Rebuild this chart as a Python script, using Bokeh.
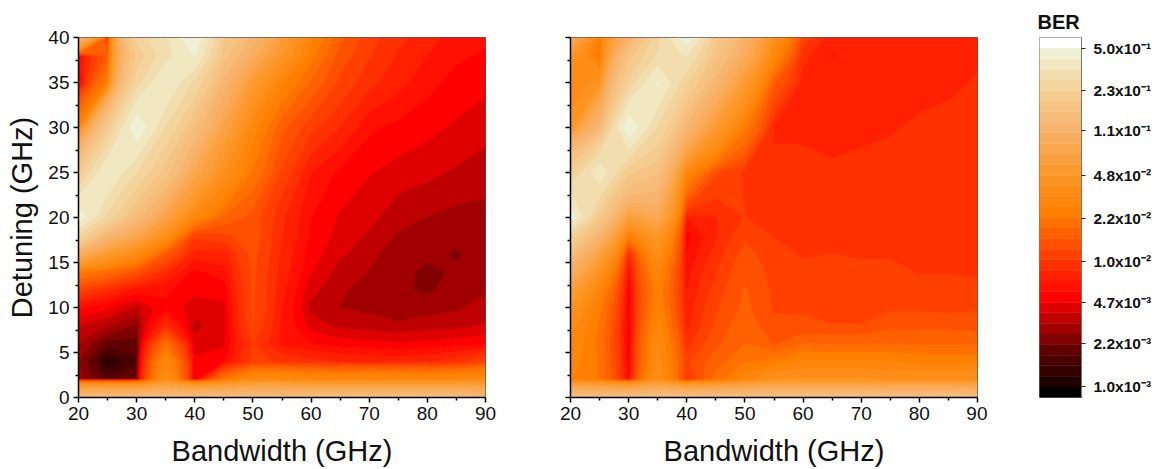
import numpy as np
from bokeh.embed import file_html
from bokeh.layouts import row
from bokeh.models import FixedTicker, Range1d, Title
from bokeh.plotting import figure
from bokeh.resources import INLINE

# Bandwidth (GHz) and detuning (GHz) grid
bandwidth = [20, 25, 30, 35, 40, 45, 50, 55, 60, 65, 70, 75, 80, 85, 90]
detuning = [0, 2, 4, 6, 8, 10, 12, 14, 16, 18, 20, 25, 30, 35, 38, 40]

# BER x 1000, one list per bandwidth, ascending detuning
left_ber = [
    [150, 2.8, 2.7, 3.2, 4, 6, 12, 24, 100, 270, 480, 200, 28, 5, 5.5, 130],
    [150, 1.8, 1.15, 2.0, 3.3, 5, 9, 20, 55, 130, 260, 420, 200, 25, 16, 7],
    [150, 2.2, 1.7, 2.0, 2.6, 3.7, 6.5, 14, 35, 80, 140, 280, 490, 260, 200, 250],
    [150, 38, 32, 20, 9, 5.5, 6, 9, 16, 38, 70, 170, 280, 420, 320, 330],
    [150, 4.5, 5, 4.2, 3.7, 4.3, 5, 5.5, 8, 11, 30, 80, 150, 270, 420, 490],
    [150, 22, 5.5, 4.6, 4.4, 4.5, 5.2, 6.5, 8, 12, 18, 40, 70, 120, 170, 200],
    [150, 35, 11, 10.5, 12.5, 13, 13, 13, 13.5, 14, 14, 22, 30, 55, 95, 120],
    [150, 35, 10, 6.7, 6.8, 7, 7.4, 7.8, 8.2, 8.6, 8.8, 12, 16, 28, 48, 60],
    [150, 32, 9, 5.8, 4.4, 3.7, 4.2, 4.8, 5.2, 5.6, 5.8, 7, 11, 18, 24, 28],
    [150, 32, 8.5, 5.2, 3.7, 3.2, 3.3, 3.6, 4.1, 4.4, 4.6, 5.5, 8.5, 12, 14, 16],
    [150, 32, 8.2, 5, 3.5, 3.1, 3.0, 3.2, 3.4, 3.8, 4.2, 4.8, 6, 9, 10.5, 11],
    [150, 32, 8, 4.9, 3.3, 2.95, 2.75, 2.8, 2.9, 3.15, 3.4, 4.4, 5.4, 7.5, 8.3, 9],
    [150, 32, 8.5, 5, 3.5, 3.0, 2.55, 2.55, 2.75, 2.95, 3.2, 4.1, 5, 6.2, 7, 7.5],
    [150, 32, 9.5, 5.2, 3.7, 3.1, 2.9, 2.7, 2.6, 2.8, 3.0, 3.8, 4.6, 5.3, 6, 6.5],
    [130, 35, 12, 5.5, 4.0, 3.6, 3.1, 2.85, 2.85, 2.9, 3.0, 3.5, 4.2, 5, 5.6, 6],
]
right_ber = [
    [160, 28, 30, 32, 36, 45, 65, 100, 150, 250, 480, 220, 45, 32, 50, 90],
    [160, 22, 22, 21, 22, 24, 30, 42, 70, 120, 190, 400, 130, 45, 21, 25],
    [160, 6, 5.2, 4.9, 4.9, 5, 5.3, 6, 9, 25, 60, 200, 490, 240, 170, 110],
    [160, 40, 35, 34, 30, 27, 26, 30, 38, 50, 85, 160, 280, 430, 290, 260],
    [160, 10, 12, 9.5, 8, 7.5, 7, 6.5, 5.8, 5.4, 7.2, 30, 120, 240, 350, 480],
    [160, 20, 17, 14.5, 13, 12.2, 11.2, 10.2, 9.2, 8.2, 8.4, 13, 55, 120, 170, 200],
    [160, 30, 22, 18.5, 17.5, 16, 15.5, 14.8, 13.5, 12, 10.4, 10, 24, 55, 90, 110],
    [160, 42, 24, 15, 12.9, 12.3, 12, 11.6, 11, 10.2, 9.2, 8.6, 8.4, 16, 30, 40],
    [160, 42, 28, 18.5, 13, 12.2, 11.6, 10.9, 10.1, 9.7, 9.3, 8.9, 8.2, 8.0, 9, 12],
    [160, 42, 28, 18, 12.6, 11.8, 11.3, 10.8, 10.3, 9.8, 9.3, 8.7, 8, 7.5, 6.9, 7.5],
    [160, 42, 28, 18, 12.6, 11.6, 11.3, 10.7, 10.1, 9.7, 9.4, 8.8, 8.2, 7.8, 7.6, 7.5],
    [160, 40, 27, 18.5, 14.5, 12, 11.2, 10.7, 10.1, 9.8, 9.6, 9, 8.35, 8.1, 7.7, 7.6],
    [160, 40, 26, 18, 14.6, 12, 11, 10.2, 9.9, 9.7, 9.5, 9.2, 8.7, 8, 7.8, 7.7],
    [160, 40, 26, 18, 14.5, 11.8, 10.9, 10.2, 9.7, 9.5, 9.4, 9.2, 8.9, 8.2, 8, 7.8],
    [150, 40, 26, 18, 14, 12.2, 10.7, 10.1, 9.8, 9.6, 9.5, 9.2, 9, 8.6, 8.3, 8],
]

x_ticks = [20, 30, 40, 50, 60, 70, 80, 90]
x_minor = [25, 35, 45, 55, 65, 75, 85]
y_ticks = [0, 5, 10, 15, 20, 25, 30, 35, 40]
y_minor = [2.5, 7.5, 12.5, 17.5, 22.5, 27.5, 32.5, 37.5]
bar_ticks = [5.0e-1, 2.3e-1, 1.1e-1, 4.8e-2, 2.2e-2, 1.0e-2, 4.7e-3, 2.2e-3, 1.0e-3]
bar_labels = ["5.0x10⁻¹", "2.3x10⁻¹", "1.1x10⁻¹", "4.8x10⁻²", "2.2x10⁻²",
              "1.0x10⁻²", "4.7x10⁻³", "2.2x10⁻³", "1.0x10⁻³"]

# Colour scale: 32 log-spaced bins from 1e-3 to 5e-1, black below, white above
ratio = 500 ** (1 / 32)
inner = [1e-3 * ratio ** i for i in range(33)]
levels = [1e-4] + inner + [1.0]
stops = [(0, "200000"), (3, "600000"), (8, "FF0000"), (16, "FF8000"),
         (20, "FC9A2E"), (24, "F7B46E"), (28, "F3D49C"), (31, "F0F0D4")]
pos = [s[0] for s in stops]
chan = [[int(s[1][k:k + 2], 16) for s in stops] for k in (0, 2, 4)]
bins = ["#%02X%02X%02X" % tuple(int(round(np.interp(i, pos, c))) for c in chan) for i in range(32)]
colors = ["#000000"] + bins + ["#FFFFFF"]
line_colors = [colors[0]] + colors

FONT = "Liberation Sans"


def panel(data, y_labels, left_border, right_border, width):
    p = figure(width=width, height=469, output_backend="svg", toolbar_location=None,
               x_range=Range1d(20, 90), y_range=Range1d(0, 40),
               min_border_left=left_border, min_border_right=right_border,
               min_border_top=37, min_border_bottom=72,
               x_axis_label="Bandwidth (GHz)", y_axis_label="Detuning (GHz)" if y_labels else None)
    z = np.array(data).T * 1e-3
    p.contour(bandwidth, detuning, z, levels, fill_color=colors, line_color=line_colors, line_width=1.2)
    p.grid.visible = False
    p.outline_line_color = "#555555"
    p.outline_line_width = 1
    p.xaxis.ticker = FixedTicker(ticks=x_ticks, minor_ticks=x_minor)
    p.yaxis.ticker = FixedTicker(ticks=y_ticks, minor_ticks=y_minor)
    for ax in (p.xaxis[0], p.yaxis[0]):
        ax.axis_line_color = "black"
        ax.axis_line_width = 1.5
        ax.major_tick_line_width = 1.5
        ax.minor_tick_line_width = 1.5
        ax.major_tick_in = 0
        ax.minor_tick_in = 0
        ax.major_tick_out = 5
        ax.minor_tick_out = 3
        ax.major_label_text_font = FONT
        ax.major_label_text_font_size = "19px"
        ax.major_label_text_color = "#111111"
        ax.axis_label_text_font = FONT
        ax.axis_label_text_font_size = "29px"
        ax.axis_label_text_font_style = "normal"
        ax.axis_label_text_color = "#111111"
    p.xaxis.axis_label_standoff = 12
    p.xaxis.major_label_standoff = 4
    p.yaxis.axis_label_standoff = 7
    p.yaxis.major_label_standoff = 4
    if not y_labels:
        p.yaxis.major_label_overrides = {float(t): "" for t in y_ticks}
    return p


p1 = panel(left_ber, True, 78, 15, 500)
p2 = panel(right_ber, False, 70, 10, 487)

lo = 1e-3 / ratio
hi = 5e-1 * ratio
bar = figure(width=169, height=469, output_backend="svg", toolbar_location=None,
             y_axis_type="log", x_range=Range1d(0, 1), y_range=Range1d(lo, hi),
             min_border_left=52, min_border_right=75, min_border_top=37, min_border_bottom=72,
             x_axis_location=None, y_axis_location="right")
edges = [lo] + inner + [hi]
bar.quad(left=0, right=1, bottom=edges[:-1], top=edges[1:], fill_color=colors, line_color=colors, line_width=0.5)
bar.grid.visible = False
bar.outline_line_color = "#777777"
bar.outline_line_width = 1
ax = bar.yaxis[0]
ax.ticker = FixedTicker(ticks=bar_ticks, minor_ticks=[])
ax.major_label_overrides = {float(t): s for t, s in zip(bar_ticks, bar_labels)}
ax.axis_line_color = "#777777"
ax.major_tick_in = 0
ax.major_tick_out = 4
ax.major_tick_line_color = "#222222"
ax.major_label_standoff = 8
ax.major_label_text_font = FONT
ax.major_label_text_font_size = "15.5px"
ax.major_label_text_font_style = "bold"
ax.major_label_text_color = "#111111"
bar.add_layout(Title(text="BER", align="left", text_font=FONT, text_font_size="20px",
                     text_font_style="bold", text_color="#111111", standoff=9, offset=-2), "above")

layout = row(p1, p2, bar, spacing=0)
open("out.html", "w").write(file_html(layout, INLINE))
